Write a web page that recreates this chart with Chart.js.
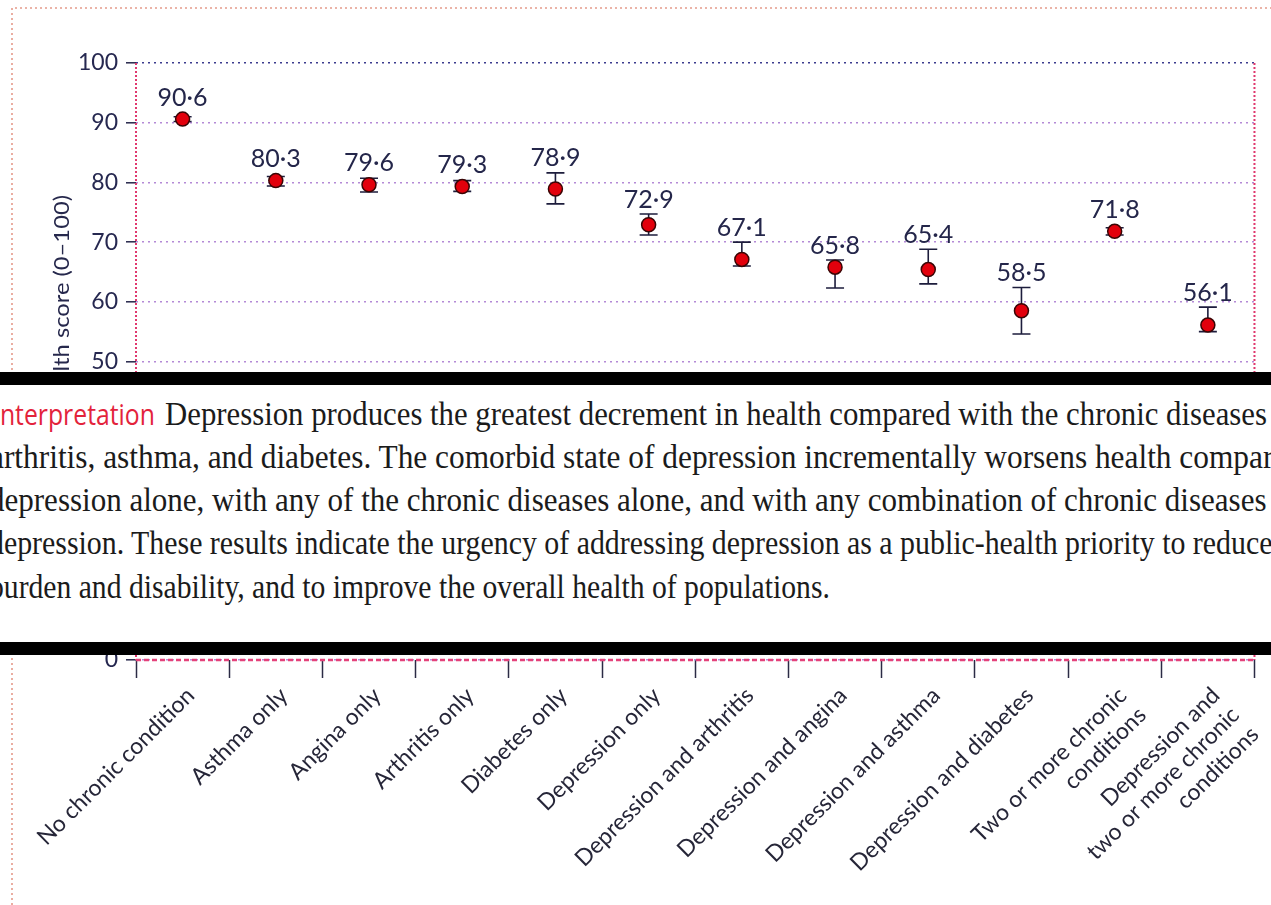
<!DOCTYPE html>
<html>
<head>
<meta charset="utf-8">
<script src="https://cdn.jsdelivr.net/npm/chart.js@4.4.1/dist/chart.umd.min.js"></script>
<style>
  html, body { margin: 0; padding: 0; background: #fff; overflow: hidden; }
  #wrap { position: relative; width: 1271px; height: 905px; overflow: hidden; }
  #band {
    position: absolute; left: 0; top: 372px; width: 1271px; height: 283px;
    background: #fff; border-top: 13px solid #000; border-bottom: 13px solid #000;
    box-sizing: border-box; overflow: hidden;
  }
  .seg {
    position: absolute; white-space: nowrap; line-height: 1;
    transform-origin: 0 0; color: #1b1b1b;
    font-family: "Liberation Serif", serif; font-size: 33px;
  }
  .seg.head { color: #e3233b; font-family: "Open Sans", sans-serif; font-size: 30px; }
</style>
</head>
<body>
<div id="wrap">
  <canvas id="chart" width="1271" height="905"></canvas>
  <div id="band"></div>
</div>
<script>
// Groups on the x axis
const categories = [
  "No chronic condition",
  "Asthma only",
  "Angina only",
  "Arthritis only",
  "Diabetes only",
  "Depression only",
  "Depression and arthritis",
  "Depression and angina",
  "Depression and asthma",
  "Depression and diabetes",
  ["Two or more chronic", "conditions"],
  ["Depression and", "two or more chronic", "conditions"]
];

// Mean health score per group and its 95% confidence interval
const meanScore = [90.6, 80.3, 79.6, 79.3, 78.9, 72.9, 67.1, 65.8, 65.4, 58.5, 71.8, 56.1];
const ciLow     = [90.2, 79.4, 78.4, 78.5, 76.4, 71.2, 66.0, 62.3, 63.0, 54.6, 71.2, 55.0];
const ciHigh    = [91.0, 81.0, 80.7, 80.3, 81.6, 74.7, 70.0, 67.0, 68.8, 62.4, 72.4, 59.1];

// Value axis
const yMin = 0, yMax = 100, yStep = 10;
const yTitle = "Health score (0\u2013100)";

// Summary paragraph printed across the figure
const summaryHead = "Interpretation";
const summaryLines = [
  "Depression produces the greatest decrement in health compared with the chronic diseases angina,",
  "arthritis, asthma, and diabetes. The comorbid state of depression incrementally worsens health compared with",
  "depression alone, with any of the chronic diseases alone, and with any combination of chronic diseases without",
  "depression. These results indicate the urgency of addressing depression as a public-health priority to reduce disease",
  "burden and disability, and to improve the overall health of populations."
];

const fmt = v => v.toFixed(1).replace(".", "\u00b7");

// Confidence-interval whiskers, drawn under the markers
const errorBars = {
  id: "errorBars",
  beforeDatasetsDraw(chart) {
    const { ctx, scales: { x, y } } = chart;
    ctx.save();
    ctx.strokeStyle = "#1d1d3c";
    ctx.lineWidth = 1.6;
    meanScore.forEach((m, i) => {
      const px = x.getPixelForValue(i);
      const top = y.getPixelForValue(ciHigh[i]);
      const bot = y.getPixelForValue(ciLow[i]);
      ctx.beginPath();
      ctx.moveTo(px, top); ctx.lineTo(px, bot);
      ctx.moveTo(px - 9, top); ctx.lineTo(px + 9, top);
      ctx.moveTo(px - 9, bot); ctx.lineTo(px + 9, bot);
      ctx.stroke();
    });
    ctx.restore();
  }
};

// Value labels above each whisker
const valueLabels = {
  id: "valueLabels",
  afterDatasetsDraw(chart) {
    const { ctx, scales: { x, y } } = chart;
    ctx.save();
    ctx.font = "25px Lato, sans-serif";
    ctx.fillStyle = "#24264a";
    ctx.textAlign = "center";
    ctx.textBaseline = "bottom";
    meanScore.forEach((m, i) => {
      const px = x.getPixelForValue(i);
      const top = Math.min(y.getPixelForValue(ciHigh[i]), y.getPixelForValue(m) - 7);
      ctx.fillText(fmt(m), px, top - 2);
    });
    ctx.restore();
  }
};

// Dotted frame, axis lines and rotated axis title
const frame = {
  id: "frame",
  beforeDatasetsDraw(chart) {
    const { ctx, chartArea: a, width, height } = chart;
    ctx.save();
    // outer figure frame
    ctx.setLineDash([2, 3]);
    ctx.lineWidth = 1.6;
    ctx.strokeStyle = "#e59a8a";
    ctx.beginPath();
    ctx.moveTo(12, height); ctx.lineTo(12, 8); ctx.lineTo(width, 8);
    ctx.stroke();
    // plot sides
    ctx.strokeStyle = "#e0386e";
    ctx.lineWidth = 2;
    ctx.setLineDash([2, 2]);
    ctx.beginPath();
    ctx.moveTo(a.left, a.top); ctx.lineTo(a.left, a.bottom);
    ctx.moveTo(a.right, a.top); ctx.lineTo(a.right, a.bottom);
    ctx.stroke();
    // category axis line
    ctx.strokeStyle = "#e4427a";
    ctx.lineWidth = 2.5;
    ctx.setLineDash([5, 3]);
    ctx.beginPath();
    ctx.moveTo(a.left, a.bottom); ctx.lineTo(a.right, a.bottom);
    ctx.stroke();
    ctx.restore();

    // axis title, reading upward
    ctx.save();
    ctx.translate(62, 195);
    ctx.rotate(-Math.PI / 2);
    ctx.scale(1.13, 1);
    ctx.font = "21px Lato, sans-serif";
    ctx.fillStyle = "#26284c";
    ctx.textAlign = "right";
    ctx.textBaseline = "middle";
    ctx.fillText(yTitle, 0, 0);
    ctx.restore();
  }
};

const chart = new Chart(document.getElementById("chart"), {
  type: "line",
  data: {
    labels: categories,
    datasets: [{
      data: meanScore,
      showLine: false,
      pointRadius: 7,
      pointHoverRadius: 7,
      pointBackgroundColor: "#e2000c",
      pointBorderColor: "#3a0505",
      pointBorderWidth: 1.5
    }]
  },
  options: {
    responsive: false,
    animation: false,
    devicePixelRatio: 1,
    layout: { padding: { left: 0, top: 63, right: 14, bottom: 0 } },
    plugins: { legend: { display: false }, tooltip: { enabled: false } },
    scales: {
      x: {
        type: "category",
        offset: true,
        afterFit(s) { s.height = 245; },
        border: { display: false },
        grid: {
          offset: true,
          drawOnChartArea: false,
          tickLength: 18,
          tickColor: "#2b2b45",
          tickWidth: 1.5
        },
        ticks: {
          minRotation: 45,
          maxRotation: 45,
          autoSkip: false,
          padding: 4,
          labelOffset: 8,
          color: "#262638",
          font: { family: "Lato, sans-serif", size: 23 }
        }
      },
      y: {
        min: yMin,
        max: yMax,
        afterFit(s) { s.width = 136; },
        border: { display: false, dash: [2, 4] },
        grid: {
          color: c => (c.tick && c.tick.value === yMax) ? "#3c3c8e" : "#b48ad6",
          lineWidth: 1.6,
          tickLength: 10,
          tickColor: "#26264a",
          tickWidth: 1.5
        },
        ticks: {
          stepSize: yStep,
          padding: 8,
          color: "#262850",
          font: { family: "Lato, sans-serif", size: 23 }
        }
      }
    }
  },
  plugins: [errorBars, valueLabels, frame]
});

// Paragraph band: each line is squeezed to the width it occupies across the page
function layoutSummary() {
  const band = document.getElementById("band");
  const meas = document.createElement("canvas").getContext("2d");
  const serif = '33px "Liberation Serif", serif';
  const sans = '30px "Open Sans", sans-serif';
  // [text, font, class, start of the run kept inside the page, right end, fitted text end, baseline]
  const rows = [
    [summaryHead, sans, "seg head", 0, 155, summaryHead.length, 425],
    [summaryLines[0], serif, "seg", 165, 1267, summaryLines[0].indexOf(" angina"), 425],
    [summaryLines[1], serif, "seg", 4, 1274, summaryLines[1].indexOf("ed with"), 468],
    [summaryLines[2], serif, "seg", 4, 1266, summaryLines[2].indexOf(" without"), 511],
    [summaryLines[3], serif, "seg", 4, 1273, summaryLines[3].indexOf(" disease"), 554],
    [summaryLines[4], serif, "seg", 4, 830, summaryLines[4].length, 598]
  ];
  rows.forEach(([text, font, cls, x0, x1, end, base], idx) => {
    meas.font = font;
    const cut = (idx === 1) ? 0 : 1;          // first glyph falls off the left edge
    const lead = meas.measureText(text.slice(0, cut)).width;
    const w = meas.measureText(text.slice(cut, end)).width;
    const k = (x1 - x0) / w;
    const m = meas.measureText(text);
    const el = document.createElement("span");
    el.className = cls;
    el.textContent = text;
    band.appendChild(el);
    const fs = parseFloat(font);
    const asc = m.fontBoundingBoxAscent, desc = m.fontBoundingBoxDescent;
    const baseInBox = (fs - (asc + desc)) / 2 + asc;
    el.style.left = (x0 - lead * k) + "px";
    el.style.top = (base - 385 - baseInBox) + "px";
    el.style.transform = "scaleX(" + k + ")";
  });
}
(document.fonts ? document.fonts.ready : Promise.resolve()).then(layoutSummary);
</script>
</body>
</html>
